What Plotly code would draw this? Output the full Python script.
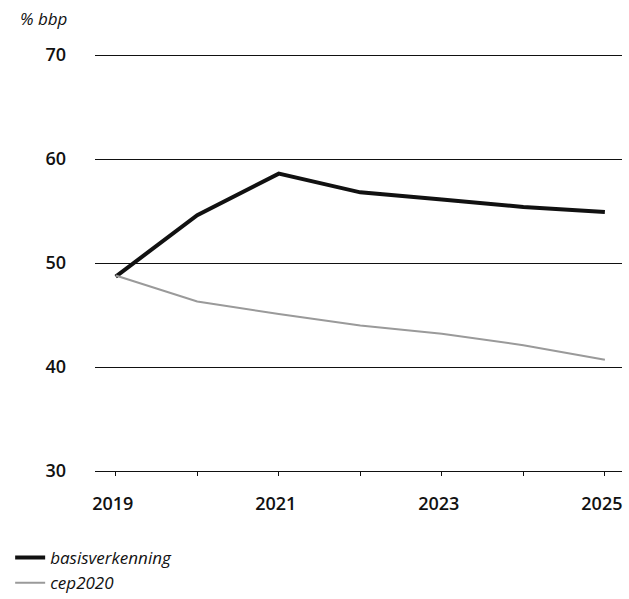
import plotly.graph_objects as go

years = [2019, 2020, 2021, 2022, 2023, 2024, 2025]
basisverkenning = [48.7, 54.6, 58.6, 56.8, 56.1, 55.4, 54.9]
cep2020 = [48.8, 46.3, 45.1, 44.0, 43.2, 42.1, 40.7]
y_ticks = [30, 40, 50, 60, 70]
x_ticktext = ["2019", "", "2021", "", "2023", "", "2025"]

FONT = "Open Sans"
INK = "#111111"

fig = go.Figure()
fig.add_trace(go.Scatter(x=years, y=basisverkenning, mode="lines", name="basisverkenning",
                         line=dict(color=INK, width=4)))
fig.add_trace(go.Scatter(x=years, y=cep2020, mode="lines", name="cep2020",
                         line=dict(color="#9a9a9a", width=2)))

fig.update_layout(
    width=629, height=599,
    margin=dict(l=95, r=7, t=53, b=128, autoexpand=False),
    paper_bgcolor="white", plot_bgcolor="white",
    font=dict(family=FONT, color=INK, size=17),
    showlegend=True,
    legend=dict(x=-0.161, y=0.0985, xref="paper", yref="container",
                xanchor="left", yanchor="top", orientation="v",
                font=dict(family=FONT, size=17, style="italic"),
                itemwidth=30, tracegroupgap=0, bgcolor="rgba(0,0,0,0)"),
    annotations=[dict(text="% bbp", xref="paper", yref="paper", x=-0.146, y=1.0837,
                      xanchor="left", yanchor="middle", showarrow=False,
                      font=dict(family=FONT, size=17, style="italic", color=INK))],
)
fig.update_xaxes(range=[2018.746, 2025.21], tickvals=years, ticktext=x_ticktext,
                 showgrid=False, zeroline=False, showline=True, linecolor=INK, linewidth=1,
                 ticks="outside", ticklen=4, tickcolor=INK, tickwidth=1,
                 tickfont=dict(family=FONT, size=18, weight=600), ticklabelstandoff=12,
                 ticklabelshift=-3)
fig.update_yaxes(range=[30, 70.2], tickvals=y_ticks, showgrid=True, gridcolor=INK, gridwidth=1,
                 zeroline=False, showline=False, ticks="",
                 tickfont=dict(family=FONT, size=18, weight=600), ticklabelstandoff=28)

fig.write_html("out.html", config={"displayModeBar": False})

with open("out.html", "r", encoding="utf-8") as f:
    html = f.read()
html = html.replace("<body>", '<body style="margin:0;overflow:hidden">', 1)
with open("out.html", "w", encoding="utf-8") as f:
    f.write(html)
